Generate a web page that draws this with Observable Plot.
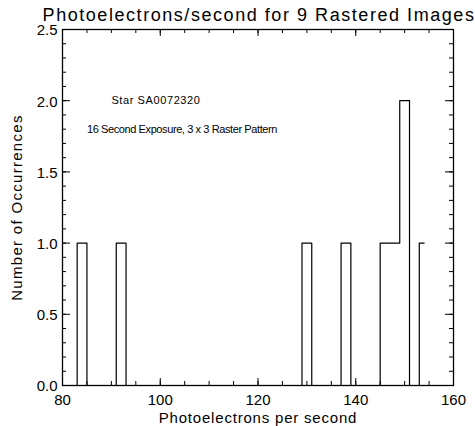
<!DOCTYPE html>
<html>
<head>
<meta charset="utf-8">
<script src="https://cdn.jsdelivr.net/npm/d3@7"></script>
<script src="https://cdn.jsdelivr.net/npm/@observablehq/plot@0.6"></script>
<style>
  html, body { margin: 0; padding: 0; background: #fff; }
  #chart svg { display: block; }
  .ttl text { letter-spacing: 1.55px; }
  .xlab text { letter-spacing: 0.8px; }
  .ylab text { letter-spacing: 1.3px; }
  .note0 text { letter-spacing: 0.6px; }
  .note1 text { letter-spacing: -0.4px; }
</style>
</head>
<body>
<div id="chart"></div>
<script>
// ---- data ----
const binLow = [83, 91, 129, 137, 145, 147, 149, 153];
const binHigh = [85, 93, 131, 139, 147, 149, 151, 154];
const counts = [1, 1, 1, 1, 1, 1, 2, 1];

const xMajorTicks = [80, 100, 120, 140, 160];
const xMinorTicks = [80, 85, 90, 95, 100, 105, 110, 115, 120, 125, 130, 135, 140, 145, 150, 155, 160];
const yMajorTicks = [0, 0.5, 1.0, 1.5, 2.0, 2.5];
const yMinorTicks = [0, 0.1, 0.2, 0.3, 0.4, 0.5, 0.6, 0.7, 0.8, 0.9, 1.0, 1.1, 1.2, 1.3, 1.4, 1.5, 1.6, 1.7, 1.8, 1.9, 2.0, 2.1, 2.2, 2.3, 2.4, 2.5];

const titleText = "Photoelectrons/second for 9 Rastered Images";
const xLabel = "Photoelectrons per second";
const yLabel = "Number of Occurrences";
const noteText = ["Star SA0072320", "16 Second Exposure, 3 x 3 Raster Pattern"];
const noteX = [90, 85];
const noteY = [2.0, 1.8];

// ---- build step path (IDL histogram style) ----
const steps = [];
for (let i = 0; i < binLow.length; i++) {
  const prevHigh = i > 0 ? binHigh[i - 1] : null;
  if (prevHigh === null) steps.push({x: binLow[i], y: 0});
  else if (prevHigh !== binLow[i]) steps.push({x: prevHigh, y: 0});
  steps.push({x: binLow[i], y: counts[i]});
}
steps.push({x: binHigh[binHigh.length - 1], y: counts[counts.length - 1]});

const W = 475, H = 426;
const mTop = 29, mBottom = 41, mLeft = 62, mRight = 22;
const innerH = H - mTop - mBottom;
const innerW = W - mLeft - mRight;
const font = "'Liberation Sans', 'DejaVu Sans', sans-serif";

const notes = noteText.map((t, i) => ({t, x: noteX[i], y: noteY[i]}));

const plot = Plot.plot({
  width: W,
  height: H,
  marginTop: mTop,
  marginBottom: mBottom,
  marginLeft: mLeft,
  marginRight: mRight,
  style: {fontFamily: font, background: "#fff", color: "#000"},
  x: {domain: [80, 160], axis: null},
  y: {domain: [0, 2.5], axis: null},
  marks: [
    // minor and major ticks, pointing inward on all four sides
    Plot.tickX(xMinorTicks, {x: d => d, insetTop: innerH - 4, stroke: "#000"}),
    Plot.tickX(xMinorTicks, {x: d => d, insetBottom: innerH - 4, stroke: "#000"}),
    Plot.tickX(xMajorTicks, {x: d => d, insetTop: innerH - 7, stroke: "#000"}),
    Plot.tickX(xMajorTicks, {x: d => d, insetBottom: innerH - 7, stroke: "#000"}),
    Plot.tickY(yMinorTicks, {y: d => d, insetRight: innerW - 4, stroke: "#000"}),
    Plot.tickY(yMinorTicks, {y: d => d, insetLeft: innerW - 4, stroke: "#000"}),
    Plot.tickY(yMajorTicks, {y: d => d, insetRight: innerW - 8, stroke: "#000"}),
    Plot.tickY(yMajorTicks, {y: d => d, insetLeft: innerW - 8, stroke: "#000"}),
    // tick labels
    Plot.text(xMajorTicks, {x: d => d, frameAnchor: "bottom", dy: 15, text: d => String(d), fontSize: 15, fill: "#000", lineAnchor: "middle"}),
    Plot.text(yMajorTicks, {y: d => d, frameAnchor: "left", dx: -5, dy: 1, text: d => d.toFixed(1), textAnchor: "end", fontSize: 15, fill: "#000"}),
    // histogram
    Plot.line(steps, {x: "x", y: "y", curve: "step-after", stroke: "#000", strokeWidth: 1.2}),
    // annotations
    Plot.text(notes.slice(0, 1), {x: "x", y: "y", text: "t", textAnchor: "start", fontSize: 11, fill: "#000", className: "note0"}),
    Plot.text(notes.slice(1), {x: "x", y: "y", text: "t", textAnchor: "start", fontSize: 11, fill: "#000", className: "note1"}),
    // frame
    Plot.frame({stroke: "#000", strokeWidth: 1.3}),
    // titles
    Plot.text([titleText], {frameAnchor: "top", dy: -14, dx: 1, text: d => d, fontSize: 18, fill: "#000", lineAnchor: "middle", className: "ttl"}),
    Plot.text([xLabel], {frameAnchor: "bottom", dy: 33, text: d => d, fontSize: 15, fill: "#000", lineAnchor: "middle", className: "xlab"}),
    Plot.text([yLabel], {frameAnchor: "left", dx: -45, rotate: -90, text: d => d, textAnchor: "middle", fontSize: 15, fill: "#000", className: "ylab"})
  ]
});

document.getElementById("chart").appendChild(plot);
</script>
</body>
</html>
